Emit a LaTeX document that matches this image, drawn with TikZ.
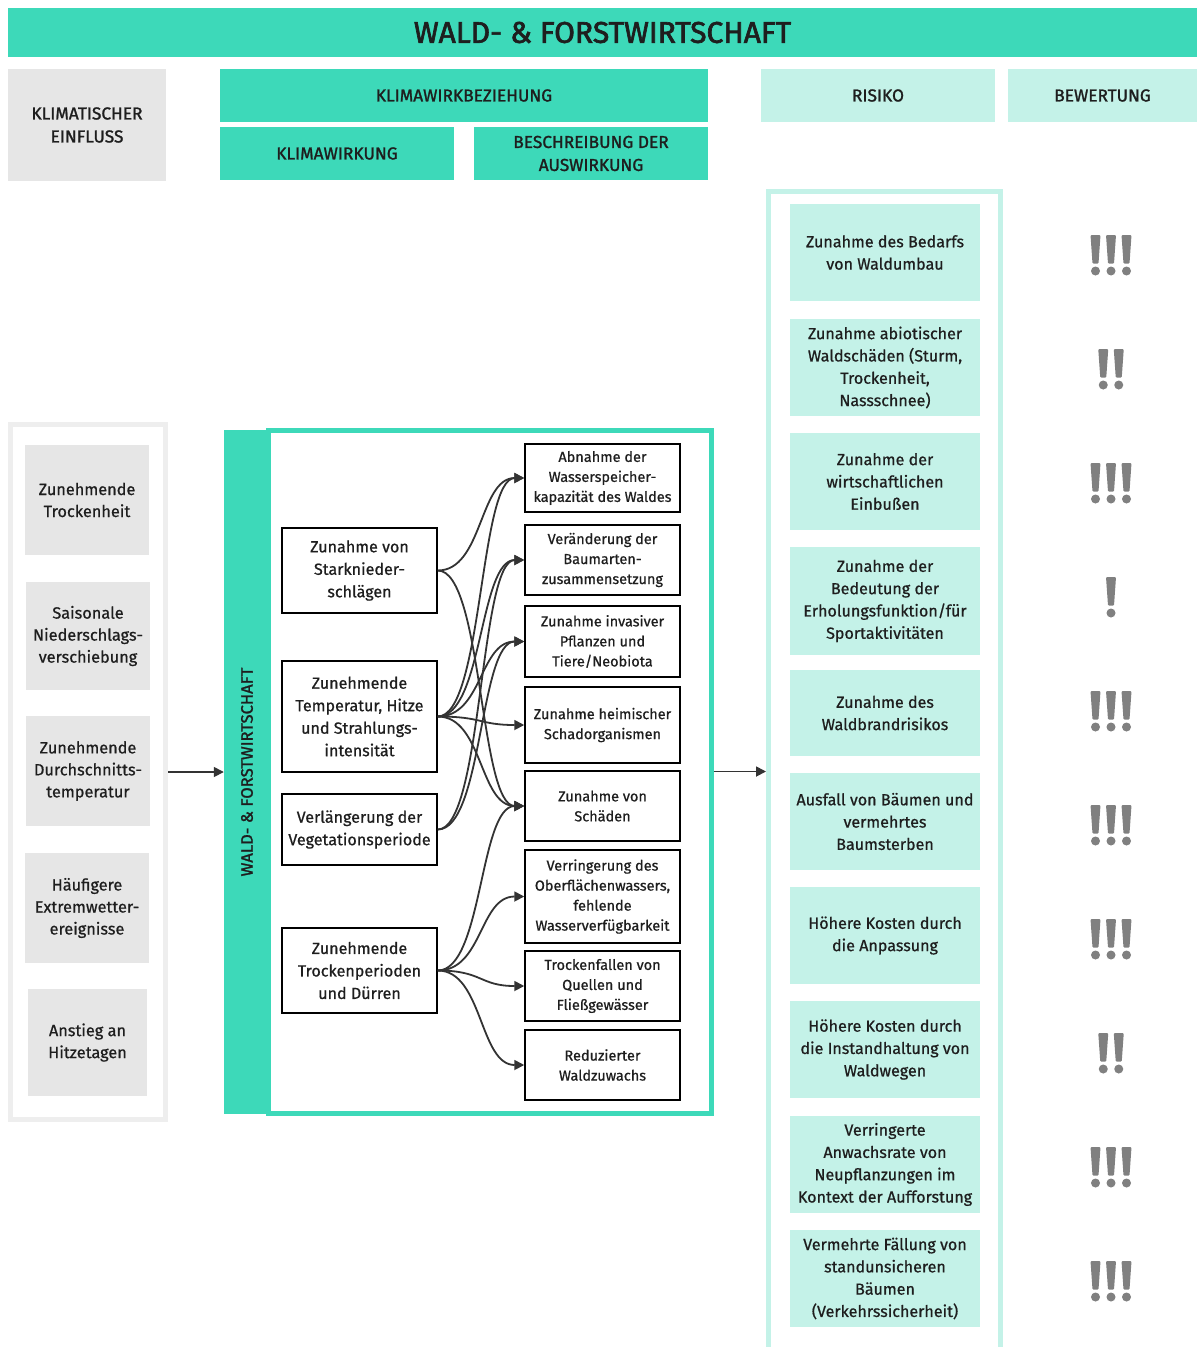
\documentclass[tikz,border=0pt]{standalone}
\usepackage{fontspec}
\setmainfont{Fira Sans}[FakeBold=0.7]
\newfontfamily\medfont{Fira Sans}[FakeBold=1.4]
\newfontfamily\titfont{Fira Sans}[FakeBold=2.2]
\usetikzlibrary{arrows.meta}
\definecolor{turq}{HTML}{3DD9B9}
\definecolor{mint}{HTML}{C4F2E8}
\definecolor{lgray}{HTML}{E6E6E6}
\definecolor{fgray}{HTML}{EEEEEE}
\definecolor{txt}{HTML}{1E1E1E}
\definecolor{ln}{HTML}{333333}
\definecolor{markc}{HTML}{808080}
\newcommand\bangs[2]{%
  \foreach \k in {1,...,#1}{%
    \pgfmathsetmacro\xc{1111+(\k-(#1+1)/2)*15.5}%
    \fill[markc, rounded corners=1pt] (\xc-5,#2-20.5) -- (\xc+5,#2-20.5) -- (\xc+3,#2+8) -- (\xc-3,#2+8) -- cycle;
    \fill[markc] (\xc,#2+15.5) circle[radius=4.5];
  }}
\begin{document}
\begin{tikzpicture}[x=1pt,y=-1pt,
  hdr/.style={fill=turq, inner sep=0pt, align=center, text=txt, font=\medfont\fontsize{17.3}{23}\selectfont},
  hdrl/.style={hdr, fill=mint},
  gbox/.style={fill=lgray, inner sep=0pt, align=center, text=txt, font=\fontsize{16.3}{22}\selectfont},
  sbox/.style={draw=black, line width=1.5pt, fill=white, inner sep=0pt, align=center, text=txt, minimum width=155pt, font=\fontsize{16.1}{22.5}\selectfont},
  tbox/.style={draw=black, line width=1.5pt, fill=white, inner sep=0pt, align=center, text=txt, minimum width=155pt, font=\fontsize{14.5}{20}\selectfont},
  rbox/.style={fill=mint, inner sep=0pt, align=center, text=txt, minimum width=190pt, font=\fontsize{16.1}{22.3}\selectfont},
  conn/.style={draw=ln, line width=1.8pt, -{Triangle[length=10pt,width=10pt]}},
  ]
\useasboundingbox (0,0) rectangle (1197,1347);
\fill[white] (0,0) rectangle (1197,1347);

% header
\node[hdr, minimum width=1189pt, minimum height=49pt, font=\titfont\fontsize{30}{32}\selectfont] (title) at (602.5,32.5) {WALD- \& FORSTWIRTSCHAFT};
\node[gbox, font=\medfont\fontsize{17.3}{23}\selectfont, minimum width=158pt, minimum height=112pt] (hke) at (87,125) {KLIMATISCHER\\EINFLUSS};
\node[hdr, minimum width=488pt, minimum height=53pt] (hkwb) at (464,95.5) {KLIMAWIRKBEZIEHUNG};
\node[hdr, minimum width=234pt, minimum height=53pt] (hkw) at (337,153.5) {KLIMAWIRKUNG};
\node[hdr, minimum width=234pt, minimum height=53pt] (hba) at (591,153.5) {BESCHREIBUNG DER\\AUSWIRKUNG};
\node[hdrl, minimum width=234pt, minimum height=53pt] (hri) at (878,95.5) {RISIKO};
\node[hdrl, minimum width=189pt, minimum height=53pt] (hbw) at (1102.5,95.5) {BEWERTUNG};

% left column
\node[draw=fgray, line width=5pt, minimum width=155pt, minimum height=695pt, inner sep=0pt] (lframe) at (88,772) {};
\node[gbox, minimum width=124pt, minimum height=110pt] (l1) at (87,500) {Zunehmende\\Trockenheit};
\node[gbox, minimum width=124pt, minimum height=108pt] (l2) at (88,636) {Saisonale\\Niederschlags-\\verschiebung};
\node[gbox, minimum width=124pt, minimum height=110pt] (l3) at (88,771) {Zunehmende\\Durchschnitts-\\temperatur};
\node[gbox, minimum width=124pt, minimum height=110pt] (l4) at (87,908) {Häufigere\\Extremwetter-\\ereignisse};
\node[gbox, minimum width=119pt, minimum height=107pt] (l5) at (87.5,1042.5) {Anstieg an\\Hitzetagen};

% middle
\node[fill=turq, inner sep=0pt, minimum width=46pt, minimum height=684pt] (bar) at (247,772) {};
\node[draw=turq, line width=5pt, inner sep=0pt, minimum width=443pt, minimum height=683pt] (mframe) at (489.5,771.5) {};
\node[rotate=90, text=txt, font=\medfont\fontsize{16.6}{18}\selectfont] (bartext) at (bar.center) {WALD- \& FORSTWIRTSCHAFT};
\draw[conn, line width=1.5pt] (lframe.east) -- (bar.west);

\node[sbox, minimum height=85pt] (s1) at (359.5,570.5) {Zunahme von\\Starknieder-\\schlägen};
\node[sbox, minimum height=111pt] (s2) at (359.5,716.5) {Zunehmende\\Temperatur, Hitze\\und Strahlungs-\\intensität};
\node[sbox, minimum height=71pt] (s3) at (359.5,829.5) {Verlängerung der\\Vegetationsperiode};
\node[sbox, minimum height=85pt] (s4) at (359.5,970.5) {Zunehmende\\Trockenperioden\\und Dürren};

\node[tbox, minimum height=68pt] (t1) at (602.5,478) {Abnahme der\\Wasserspeicher-\\kapazität des Waldes};
\node[tbox, minimum height=70pt] (t2) at (602.5,560) {Veränderung der\\Baumarten-\\zusammensetzung};
\node[tbox, minimum height=71pt] (t3) at (602.5,641.5) {Zunahme invasiver\\Pflanzen und\\Tiere/Neobiota};
\node[tbox, minimum height=76pt] (t4) at (602.5,725) {Zunahme heimischer\\Schadorganismen};
\node[tbox, minimum height=70pt] (t5) at (602.5,806) {Zunahme von\\Schäden};
\node[tbox, minimum height=93pt] (t6) at (602.5,896.5) {Verringerung des\\Oberflächenwassers,\\fehlende\\Wasserverfügbarkeit};
\node[tbox, minimum height=70pt] (t7) at (602.5,986) {Trockenfallen von\\Quellen und\\Fließgewässer};
\node[tbox, minimum height=70pt] (t8) at (602.5,1065) {Reduzierter\\Waldzuwachs};

\foreach \a/\b in {s1/t1,s1/t5,s2/t1,s2/t2,s2/t3,s2/t4,s2/t5,s3/t2,s3/t3,s4/t5,s4/t6,s4/t7,s4/t8}{
  \draw[conn] (\a.east) .. controls +(45,0) and +(-45,0) .. (\b.west);
}

% right
\node[draw=mint, line width=5pt, inner sep=0pt, minimum width=232pt, minimum height=1168pt] (rframe) at (884.5,775.5) {};
\draw[conn] (mframe.east) -- (mframe.east -| rframe.west);

\node[rbox, minimum height=97pt] (r1) at (885,252.5) {Zunahme des Bedarfs\\von Waldumbau};
\node[rbox, minimum height=97pt] (r2) at (885,367.5) {Zunahme abiotischer\\Waldschäden (Sturm,\\Trockenheit,\\Nassschnee)};
\node[rbox, minimum height=97pt] (r3) at (885,481.5) {Zunahme der\\wirtschaftlichen\\Einbußen};
\node[rbox, minimum height=108pt] (r4) at (885,601) {Zunahme der\\Bedeutung der\\Erholungsfunktion/für\\Sportaktivitäten};
\node[rbox, minimum height=86pt] (r5) at (885,713) {Zunahme des\\Waldbrandrisikos};
\node[rbox, minimum height=97pt] (r6) at (885,821.5) {Ausfall von Bäumen und\\vermehrtes\\Baumsterben};
\node[rbox, minimum height=97pt] (r7) at (885,935.5) {Höhere Kosten durch\\die Anpassung};
\node[rbox, minimum height=97pt] (r8) at (885,1049.5) {Höhere Kosten durch\\die Instandhaltung von\\Waldwegen};
\node[rbox, minimum height=97pt] (r9) at (885,1164.5) {Verringerte\\Anwachsrate von\\Neupflanzungen im\\Kontext der Aufforstung};
\node[rbox, minimum height=97pt] (r10) at (885,1278.5) {Vermehrte Fällung von\\standunsicheren\\Bäumen\\(Verkehrssicherheit)};

\bangs{3}{255.5}
\bangs{2}{369.5}
\bangs{3}{483.5}
\bangs{1}{597.5}
\bangs{3}{711.5}
\bangs{3}{825.5}
\bangs{3}{939.5}
\bangs{2}{1053.5}
\bangs{3}{1167.5}
\bangs{3}{1281.5}
\end{tikzpicture}
\end{document}
